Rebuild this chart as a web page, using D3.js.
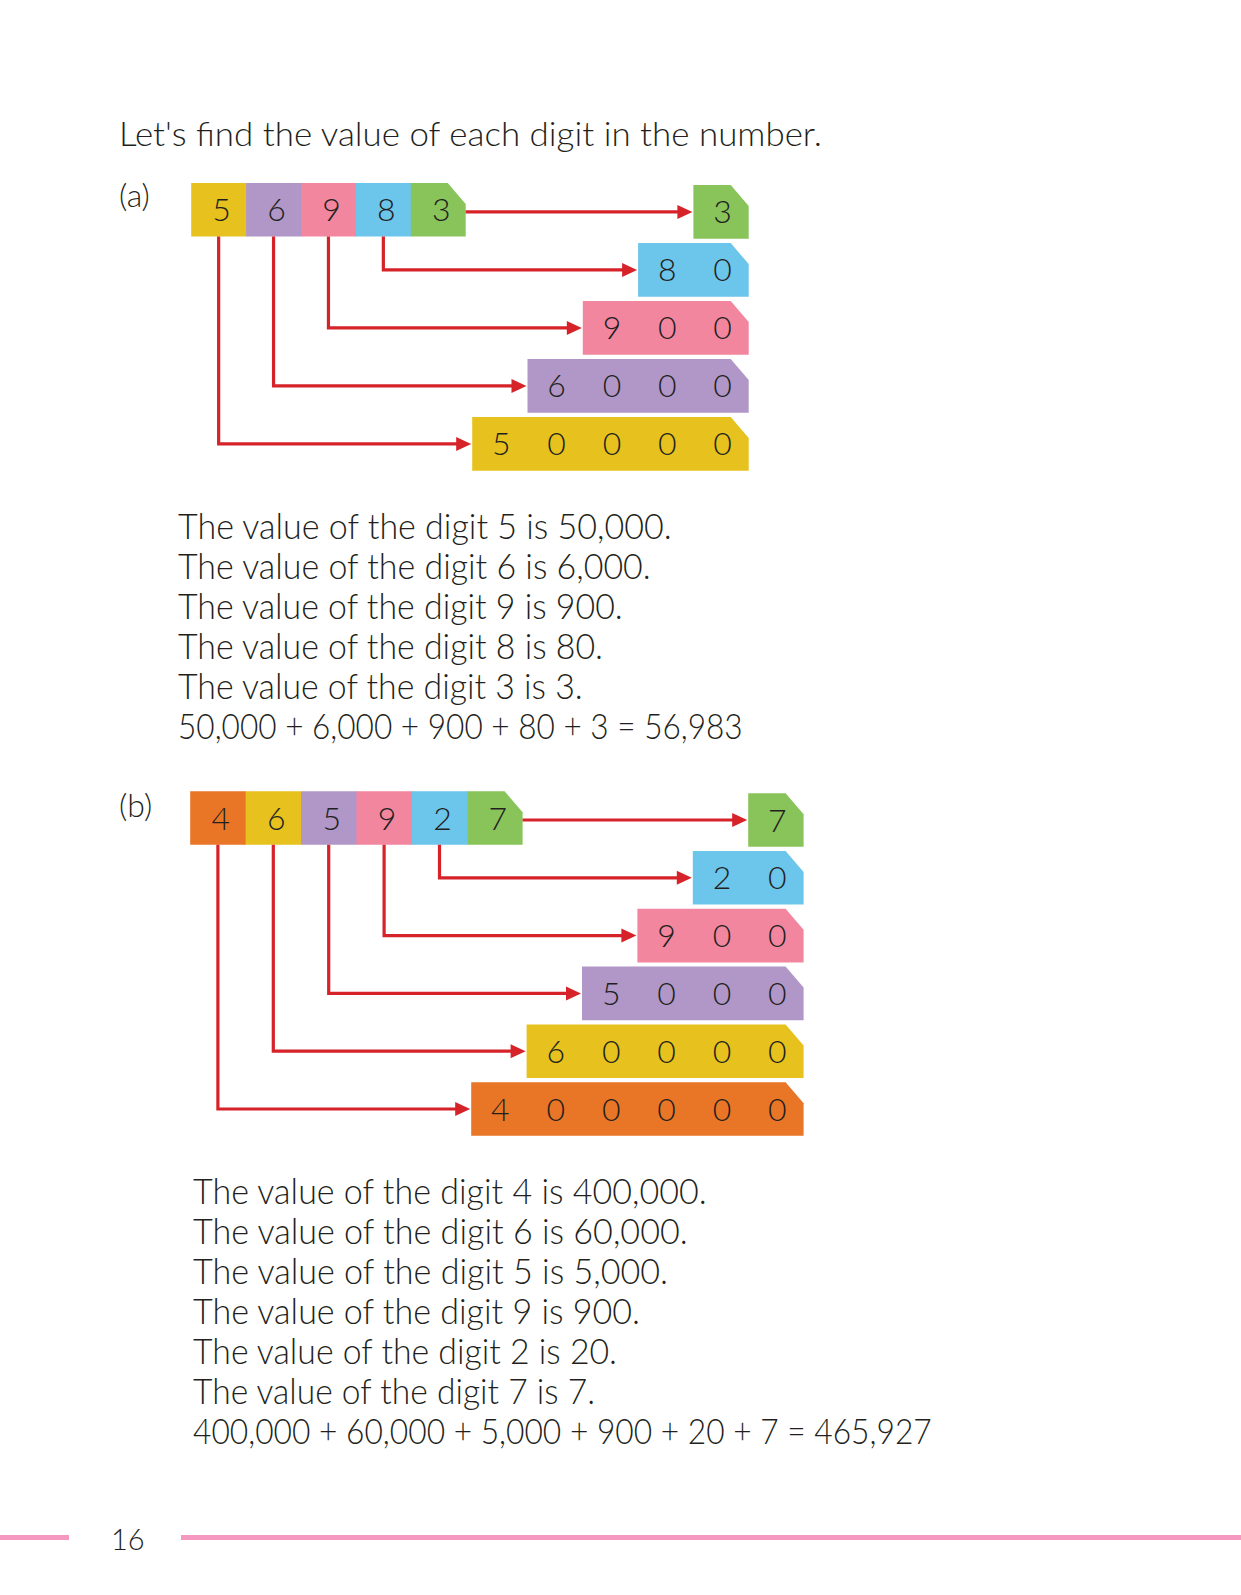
<!DOCTYPE html>
<html><head><meta charset="utf-8">
<script src="https://cdn.jsdelivr.net/npm/d3@7"></script>
<style>html,body{margin:0;padding:0;background:#fff;}svg{display:block;}</style>
</head><body>
<script>
// ---------- data ----------
const titleText = "Let's find the value of each digit in the number.";
const partLabels = ["(a)", "(b)"];
const digitsA = [5, 6, 9, 8, 3];
const digitsB = [4, 6, 5, 9, 2, 7];
const coloursA = ["#E7C21E", "#B097C7", "#F2869F", "#6CC5EA", "#89C45A"];
const coloursB = ["#E97526", "#E7C21E", "#B097C7", "#F2869F", "#6CC5EA", "#89C45A"];
const sentencesA = [
  "The value of the digit 5 is 50,000.",
  "The value of the digit 6 is 6,000.",
  "The value of the digit 9 is 900.",
  "The value of the digit 8 is 80.",
  "The value of the digit 3 is 3.",
  "50,000 + 6,000 + 900 + 80 + 3 = 56,983"
];
const sentencesB = [
  "The value of the digit 4 is 400,000.",
  "The value of the digit 6 is 60,000.",
  "The value of the digit 5 is 5,000.",
  "The value of the digit 9 is 900.",
  "The value of the digit 2 is 20.",
  "The value of the digit 7 is 7.",
  "400,000 + 60,000 + 5,000 + 900 + 20 + 7 = 465,927"
];
const pageNumber = "16";

// ---------- layout ----------
const W = 1241, H = 1595;
const FONT = "Lato, 'Open Sans', sans-serif";
const WEIGHT = 300;
const TEXT = "#231F20", RED = "#D6232A", PINK = "#F497C1";
const lineEndsA = [671.7, 650.7, 622.7, 603, 582.7, 742.7];
const lineEndsB = [706.7, 687.7, 668, 640, 617, 595, 931.7];

const svg = d3.select("body").append("svg").attr("width", W).attr("height", H);
svg.append("rect").attr("width", W).attr("height", H).attr("fill", "#fff");

svg.append("text").attr("x", 119).attr("y", 146)
  .attr("font-family", FONT).attr("font-weight", WEIGHT).attr("font-size", 33).attr("fill", TEXT)
  .attr("textLength", 703).attr("lengthAdjust", "spacingAndGlyphs").text(titleText);

function chamferPath(x0, x1, y0, y1, cut) {
  const cx = cut ? 18 : 0, cy = cut ? 21 : 0;
  return `M${x0},${y0}L${x1 - cx},${y0}L${x1},${y0 + cy}L${x1},${y1}L${x0},${y1}Z`;
}

function drawPart(cfg) {
  const n = cfg.digits.length;
  const g = svg.append("g");
  const xs = d3.scaleLinear().domain([0, n]).range([cfg.srcX0, cfg.srcX0 + n * cfg.cellW]);
  const xt = d3.scaleLinear().domain([0, n]).range([cfg.tgtRight - n * cfg.tgtCellW, cfg.tgtRight]);
  const yt = d3.scaleLinear().domain([0, 1]).range([cfg.tgtTop0, cfg.tgtTop0 + cfg.pitch]);
  const bh = cfg.boxH;
  const digitFS = 32;

  g.append("text").attr("x", 119).attr("y", cfg.labelY).attr("font-family", FONT)
    .attr("font-weight", WEIGHT).attr("font-size", 32).attr("fill", TEXT).text(cfg.label);

  cfg.digits.forEach((d, i) => {
    g.append("path").attr("d", chamferPath(xs(i), xs(i + 1) + (i === n - 1 ? 0 : 0.6), cfg.srcTop, cfg.srcTop + bh, i === n - 1))
      .attr("fill", cfg.colours[i]);
  });
  cfg.digits.forEach((d, i) => {
    g.append("text").attr("x", (xs(i) + xs(i + 1)) / 2 + 3).attr("y", cfg.srcTop + bh / 2 + digitFS * 0.36)
      .attr("text-anchor", "middle").attr("font-family", FONT).attr("font-weight", WEIGHT).attr("font-size", digitFS)
      .attr("fill", TEXT).text(d);
  });

  for (let k = 0; k < n; k++) {
    const i = n - 1 - k;
    const top = yt(k), cy = top + bh / 2;
    const left = xt(i), right = xt(n);
    g.append("path").attr("d", chamferPath(left, right, top, top + bh, true)).attr("fill", cfg.colours[i]);
    const str = String(cfg.digits[i]) + "0".repeat(k);
    for (let j = 0; j < str.length; j++) {
      const col = i + j;
      g.append("text").attr("x", (xt(col) + xt(col + 1)) / 2 + 1.5).attr("y", cy + digitFS * 0.36)
        .attr("text-anchor", "middle").attr("font-family", FONT).attr("font-weight", WEIGHT).attr("font-size", digitFS)
        .attr("fill", TEXT).text(str[j]);
    }
    const tip = left - 1;
    let pts;
    if (k === 0) {
      pts = [[xs(n), cy], [tip - 12, cy]];
    } else {
      const sx = (xs(i) + xs(i + 1)) / 2;
      pts = [[sx, cfg.srcTop + bh], [sx, cy], [tip - 12, cy]];
    }
    g.append("path").attr("d", d3.line()(pts)).attr("fill", "none")
      .attr("stroke", RED).attr("stroke-width", 3.2);
    g.append("path").attr("d", `M${tip},${cy}L${tip - 15},${cy - 7}L${tip - 15},${cy + 7}Z`).attr("fill", RED);
  }

  g.selectAll("text.sent").data(cfg.sentences).join("text").attr("class", "sent")
    .attr("x", cfg.textX).attr("y", (d, i) => cfg.textY0 + i * cfg.lineH)
    .attr("font-family", FONT).attr("font-weight", WEIGHT).attr("font-size", 35.5).attr("fill", TEXT)
    .attr("textLength", (d, i) => cfg.lineEnds[i] - cfg.textX).attr("lengthAdjust", "spacingAndGlyphs")
    .text(d => d);
}

drawPart({
  label: partLabels[0], labelY: 207, digits: digitsA, colours: coloursA,
  srcX0: 191.2, cellW: 54.9, tgtCellW: 55.3, srcTop: 182.9, boxH: 53.6,
  tgtRight: 748.7, tgtTop0: 185.1, pitch: 58.0,
  sentences: sentencesA, lineEnds: lineEndsA, textX: 178, textY0: 538.5, lineH: 40.1
});
drawPart({
  label: partLabels[1], labelY: 817, digits: digitsB, colours: coloursB,
  srcX0: 190.2, cellW: 55.4, tgtCellW: 55.4, srcTop: 791.2, boxH: 53.6,
  tgtRight: 803.6, tgtTop0: 793.2, pitch: 57.8,
  sentences: sentencesB, lineEnds: lineEndsB, textX: 193, textY0: 1203.5, lineH: 40.1
});

svg.append("line").attr("x1", 0).attr("x2", 69).attr("y1", 1537.5).attr("y2", 1537.5)
  .attr("stroke", PINK).attr("stroke-width", 5);
svg.append("line").attr("x1", 181).attr("x2", W).attr("y1", 1537.5).attr("y2", 1537.5)
  .attr("stroke", PINK).attr("stroke-width", 5);
svg.append("text").attr("x", 111).attr("y", 1550).attr("font-family", FONT).attr("font-weight", WEIGHT).attr("font-size", 29)
  .attr("fill", TEXT).text(pageNumber);
</script>
</body></html>
